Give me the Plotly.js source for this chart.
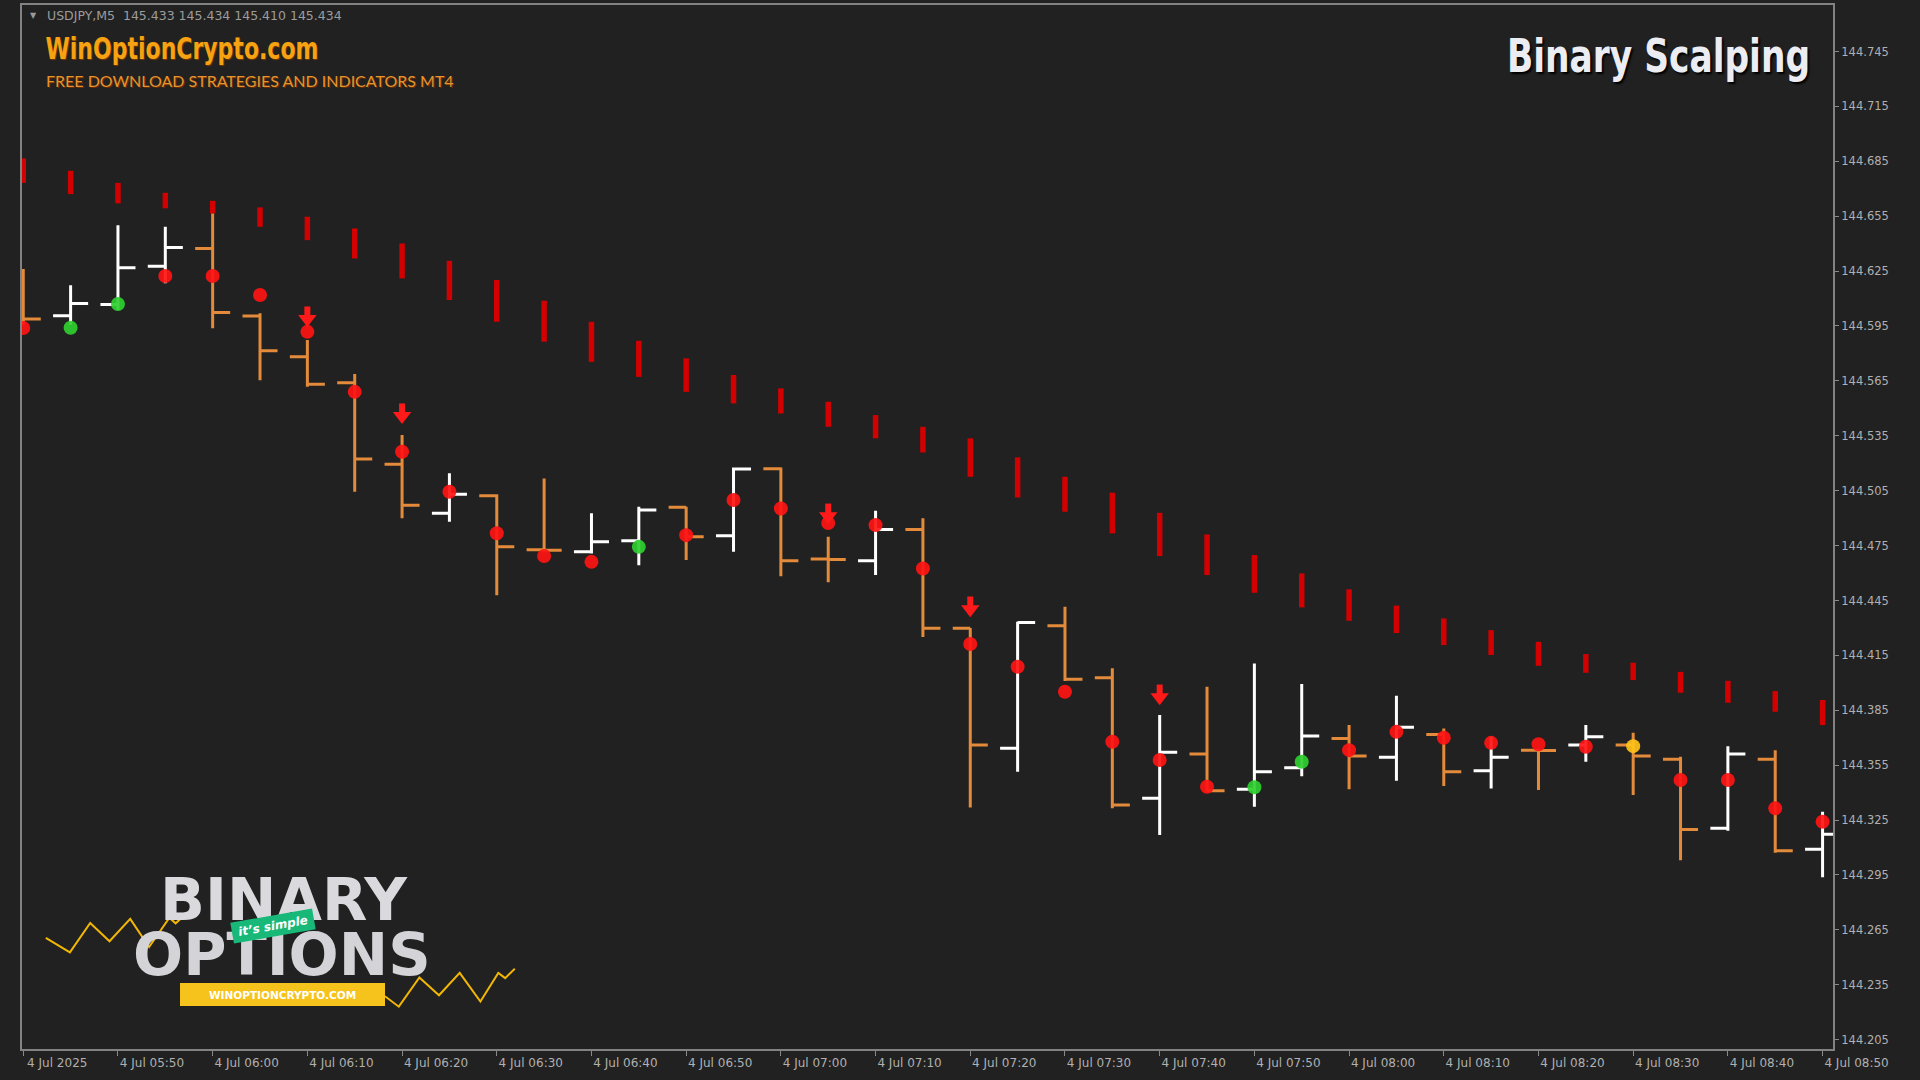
<!DOCTYPE html>
<html><head><meta charset="utf-8">
<script src="https://cdn.plot.ly/plotly-3.0.1.min.js"></script>
<style>html,body{margin:0;padding:0;background:#212121;}#chart{width:1920px;height:1080px;}</style>
</head><body><div id="chart"></div>
<script>
// ---------- data ----------
const barTimes = ['05:40','05:45','05:50','05:55','06:00','06:05','06:10','06:15','06:20','06:25',
  '06:30','06:35','06:40','06:45','06:50','06:55','07:00','07:05','07:10','07:15',
  '07:20','07:25','07:30','07:35','07:40','07:45','07:50','07:55','08:00','08:05',
  '08:10','08:15','08:20','08:25','08:30','08:35','08:40','08:45','08:50'];
const openPrice = [144.6120,144.6006,144.6068,144.6277,144.6374,144.6004,144.5782,144.5640,144.5194,144.4926,
  144.5022,144.4727,144.4716,144.4776,144.4959,144.4804,144.5170,144.4676,144.4667,144.4838,
  144.4298,144.3642,144.4312,144.4028,144.3369,144.3611,144.3418,144.3536,144.3696,144.3593,
  144.3718,144.3519,144.3632,144.3660,144.3660,144.3583,144.3205,144.3583,144.3090];
const highPrice = [144.6261,144.6173,144.6501,144.6492,144.6565,144.6019,144.5873,144.5687,144.5354,144.5145,
  144.5031,144.5117,144.4926,144.4962,144.4962,144.5177,144.5177,144.4798,144.4940,144.4899,
  144.4300,144.4334,144.4416,144.4079,144.3824,144.3978,144.4106,144.3993,144.3769,144.3930,
  144.3751,144.3705,144.3635,144.3769,144.3727,144.3596,144.3654,144.3632,144.3295];
const lowPrice = [144.5955,144.5955,144.6037,144.6183,144.5937,144.5654,144.5618,144.5044,144.4899,144.4880,
  144.4479,144.4714,144.4707,144.4643,144.4671,144.4716,144.4583,144.4549,144.4589,144.4250,
  144.3319,144.3514,144.4010,144.3314,144.3168,144.3406,144.3323,144.3490,144.3418,144.3465,
  144.3436,144.3423,144.3414,144.3569,144.3387,144.3031,144.3192,144.3071,144.2937];
const closePrice = [144.5988,144.6073,144.6268,144.6379,144.6024,144.5814,144.5631,144.5223,144.4971,144.5031,
  144.4743,144.4725,144.4771,144.4944,144.4798,144.5168,144.4667,144.4674,144.4838,144.4298,
  144.3660,144.4330,144.4020,144.3332,144.3620,144.3410,144.3514,144.3709,144.3600,144.3757,
  144.3514,144.3593,144.3630,144.3705,144.3600,144.3199,144.3611,144.3082,144.3173];

// red trend segments (top / bottom of each segment)
const trendTop = [144.6866,144.6798,144.6732,144.6678,144.6634,144.6598,144.6547,144.6483,144.6401,144.6306,
  144.6201,144.6088,144.5973,144.5869,144.5773,144.5682,144.5609,144.5536,144.5463,144.5399,
  144.5336,144.5232,144.5126,144.5039,144.4929,144.4811,144.4698,144.4598,144.4511,144.4422,
  144.4352,144.4288,144.4224,144.4157,144.4110,144.4060,144.4011,144.3955,144.3906];
const trendBottom = [144.6732,144.6671,144.6620,144.6593,144.6565,144.6492,144.6419,144.6319,144.6210,144.6092,
  144.5973,144.5864,144.5754,144.5672,144.5590,144.5527,144.5472,144.5399,144.5336,144.5259,
  144.5126,144.5013,144.4935,144.4817,144.4693,144.4589,144.4492,144.4412,144.4339,144.4272,
  144.4206,144.4152,144.4093,144.4055,144.4015,144.3946,144.3891,144.3842,144.3769];

// signal dots
const dotPrice = [144.5939,144.5940,144.6070,144.6223,144.6223,144.6119,144.5918,144.5590,144.5263,144.5044,
  144.4817,144.4693,144.4661,144.4743,144.4807,144.4999,144.4953,144.4873,144.4862,144.4625,
  144.4212,144.4088,144.3951,144.3678,144.3578,144.3432,144.3429,144.3569,144.3632,144.3732,
  144.3700,144.3672,144.3664,144.3651,144.3654,144.3469,144.3469,144.3314,144.3241];
const dotSignal = ['sell','buy','buy','sell','sell','sell','sell','sell','sell','sell',
  'sell','sell','sell','buy','sell','sell','sell','sell','sell','sell',
  'sell','sell','sell','sell','sell','sell','buy','buy','sell','sell',
  'sell','sell','sell','sell','wait','sell','sell','sell','sell'];

// sell arrows (tip price)
const arrowTimes = ['06:10','06:20','07:05','07:20','07:40'];
const arrowTip = [144.5944,144.5414,144.4867,144.4359,144.3878];

// axis ticks
const xTickTimes = ['05:40','05:50','06:00','06:10','06:20','06:30','06:40','06:50','07:00','07:10',
  '07:20','07:30','07:40','07:50','08:00','08:10','08:20','08:30','08:40','08:50'];
const xTickLabels = ['4 Jul 2025','4 Jul 05:50','4 Jul 06:00','4 Jul 06:10','4 Jul 06:20','4 Jul 06:30',
  '4 Jul 06:40','4 Jul 06:50','4 Jul 07:00','4 Jul 07:10','4 Jul 07:20','4 Jul 07:30','4 Jul 07:40',
  '4 Jul 07:50','4 Jul 08:00','4 Jul 08:10','4 Jul 08:20','4 Jul 08:30','4 Jul 08:40','4 Jul 08:50'];
const yTickValues = [144.205,144.235,144.265,144.295,144.325,144.355,144.385,144.415,144.445,144.475,
  144.505,144.535,144.565,144.595,144.625,144.655,144.685,144.715,144.745];

// ---------- build ----------
const day = '2025-07-04 ';
const toX = t => day + t + ':00';
const xs = barTimes.map(toX);

const W = 1920, H = 1080;
const M = {l:22, r:87, t:5, b:31};
const plotH = H - M.t - M.b, plotW = W - M.l - M.r;
const yRange = [144.1999, 144.7704];
const ppp = (yRange[1]-yRange[0]) / plotH;   // price per pixel
const px = X => (X - M.l) / plotW;
const py = Y => (H - M.b - Y) / plotH;

const sigColor = {sell:'#ff1414', buy:'#2fd02f', wait:'#ffc21a'};

const traces = [
  {
    type:'bar', x: xs, base: trendBottom,
    y: trendTop.map((t,i) => t - trendBottom[i]),
    width: 34800, marker:{color:'#d20000', line:{width:0}},
    hoverinfo:'skip', showlegend:false
  },
  {
    type:'ohlc', x: xs, open: openPrice, high: highPrice, low: lowPrice, close: closePrice,
    increasing:{line:{color:'#ffffff', width:3}},
    decreasing:{line:{color:'#e38b3b', width:3}},
    tickwidth:0.37, hoverinfo:'skip', showlegend:false
  },
  {
    type:'scatter', mode:'markers', x: xs, y: dotPrice,
    marker:{size:14, color: dotSignal.map(s => sigColor[s]), opacity:0.92, line:{width:0}},
    hoverinfo:'skip', showlegend:false
  },
  {
    type:'scatter', mode:'markers', x: arrowTimes.map(toX), y: arrowTip.map(v => v + 15*ppp),
    marker:{symbol:'line-ns', size:8, line:{color:'#ff1a1a', width:6}},
    hoverinfo:'skip', showlegend:false
  },
  {
    type:'scatter', mode:'markers', x: arrowTimes.map(toX), y: arrowTip.map(v => v + 8*ppp),
    marker:{symbol:'triangle-down', size:16, color:'#ff1a1a', line:{width:0}},
    hoverinfo:'skip', showlegend:false
  }
];

const zig1 = [[45.8,937.8],[69.9,952.3],[90.2,923],[109.5,941.3],[130.2,918.9],[149.1,947.1],[169.4,917.8],[175.6,923.3],[187,913]];
const zig2 = [[385,996.3],[398.8,1006.7],[419.4,977.4],[439,995.3],[459.7,972.9],[480.4,1001.5],[498.3,972.9],[505.2,978.1],[514.8,968.8]];
const pathOf = pts => pts.map((p,i) => (i?'L':'M') + px(p[0]).toFixed(5) + ',' + py(p[1]).toFixed(5)).join(' ');

const gray = '#a8a8a8';
const ann = (X, Y, text, font, extra) => Object.assign({
  xref:'paper', yref:'paper', x: px(X), y: py(Y), text, showarrow:false, font,
  xanchor:'left', yanchor:'middle'
}, extra || {});

const condensed = 'DejaVu Sans Condensed, DejaVu Sans';
const layout = {
  width: W, height: H,
  margin: M,
  paper_bgcolor:'#212121', plot_bgcolor:'#212121',
  font:{family:'DejaVu Sans', color: gray},
  showlegend:false, hovermode:false,
  xaxis:{
    type:'date', range:['2025-07-04 05:39:52','2025-07-04 08:51:06'],
    rangeslider:{visible:false},
    tickmode:'array', tickvals: xTickTimes.map(toX), ticktext: xTickLabels,
    ticks:'outside', ticklen:5, tickcolor:'#8a8a8a', tickwidth:1,
    tickfont:{family:'DejaVu Sans', size:12, color:'#b0b0b0'},
    ticklabelshift: 34, ticklabelstandoff: -3,
    showgrid:false, zeroline:false,
    showline:true, mirror:true, linecolor:'#828282', linewidth:2
  },
  yaxis:{
    side:'right', range: yRange,
    tickmode:'array', tickvals: yTickValues, ticktext: yTickValues.map(v => v.toFixed(3)),
    ticks:'outside', ticklen:4, tickcolor:'#8a8a8a', tickwidth:1,
    tickfont:{family:'DejaVu Sans', size:11.5, color:'#b0b0b0'},
    showgrid:false, zeroline:false,
    showline:true, mirror:true, linecolor:'#828282', linewidth:2
  },
  shapes:[
    {type:'path', xref:'paper', yref:'paper', path: pathOf(zig1), line:{color:'#f2b705', width:2}, layer:'above'},
    {type:'path', xref:'paper', yref:'paper', path: pathOf(zig2), line:{color:'#f2b705', width:2}, layer:'above'},
    {type:'rect', xref:'paper', yref:'paper', x0:px(180), x1:px(385), y0:py(1006), y1:py(983),
      fillcolor:'#f6c31c', line:{width:0}, layer:'above'}
  ],
  annotations:[
    ann(28, 16, '▼', {size:8, color:'#9a9a9a'}),
    ann(45, 16, 'USDJPY,M5  145.433 145.434 145.410 145.434', {family:'DejaVu Sans', size:12.5, color:'#9c9c9c'}),
    ann(181.5, 48, 'WinOptionCrypto.com', {family:condensed, size:31, weight:700, color:'#f7a212', shadow:'1px 1px 1px #7a3a00'}, {xanchor:'center'}),
    ann(44, 81, 'FREE DOWNLOAD STRATEGIES AND INDICATORS MT4', {family:'Lato', size:16, color:'#e6952e', shadow:'1px 1px 0px #6a2a00'}),
    ann(1658, 56, 'Binary Scalping', {family:condensed, size:35, weight:700, color:'#ececf3', shadow:'2px 2px 2px #000000'}, {xanchor:'center'}),
    ann(284, 899, 'BINARY', {family:'DejaVu Sans', size:59, weight:700, color:'#dadade'}, {xanchor:'center'}),
    ann(282, 954, 'OPTIONS', {family:'DejaVu Sans', size:59, weight:700, color:'#d4d4d8'}, {xanchor:'center'}),
    ann(273, 926, 'it’s simple', {family:'DejaVu Sans', size:12, weight:700, style:'italic', color:'#ffffff'},
      {xanchor:'center', bgcolor:'#17b878', width:80, height:18, textangle:-10}),
    ann(282.5, 994.5, 'WINOPTIONCRYPTO.COM', {family:'DejaVu Sans', size:10.5, weight:700, color:'#ffffff'}, {xanchor:'center'})
  ]
};

// display titles: condensed-face look (target width, vertical stretch)
const fitText = {'WinOptionCrypto.com': {w:273, sy:1}, 'Binary Scalping': {w:303, sy:1.33}};

Plotly.newPlot('chart', traces, layout, {displayModeBar:false, staticPlot:true}).then(gd => {
  gd.querySelectorAll('.annotation-text').forEach(t => {
    const f = fitText[t.textContent];
    if (!f) return;
    const b = t.getBBox();
    const cx = b.x + b.width/2, cy = b.y + b.height/2;
    const sx = f.w / b.width;
    const prev = t.getAttribute('transform') || '';
    t.setAttribute('transform', prev + ` translate(${cx},${cy}) scale(${sx},${f.sy}) translate(${-cx},${-cy})`);
  });
});
</script>
</body></html>
